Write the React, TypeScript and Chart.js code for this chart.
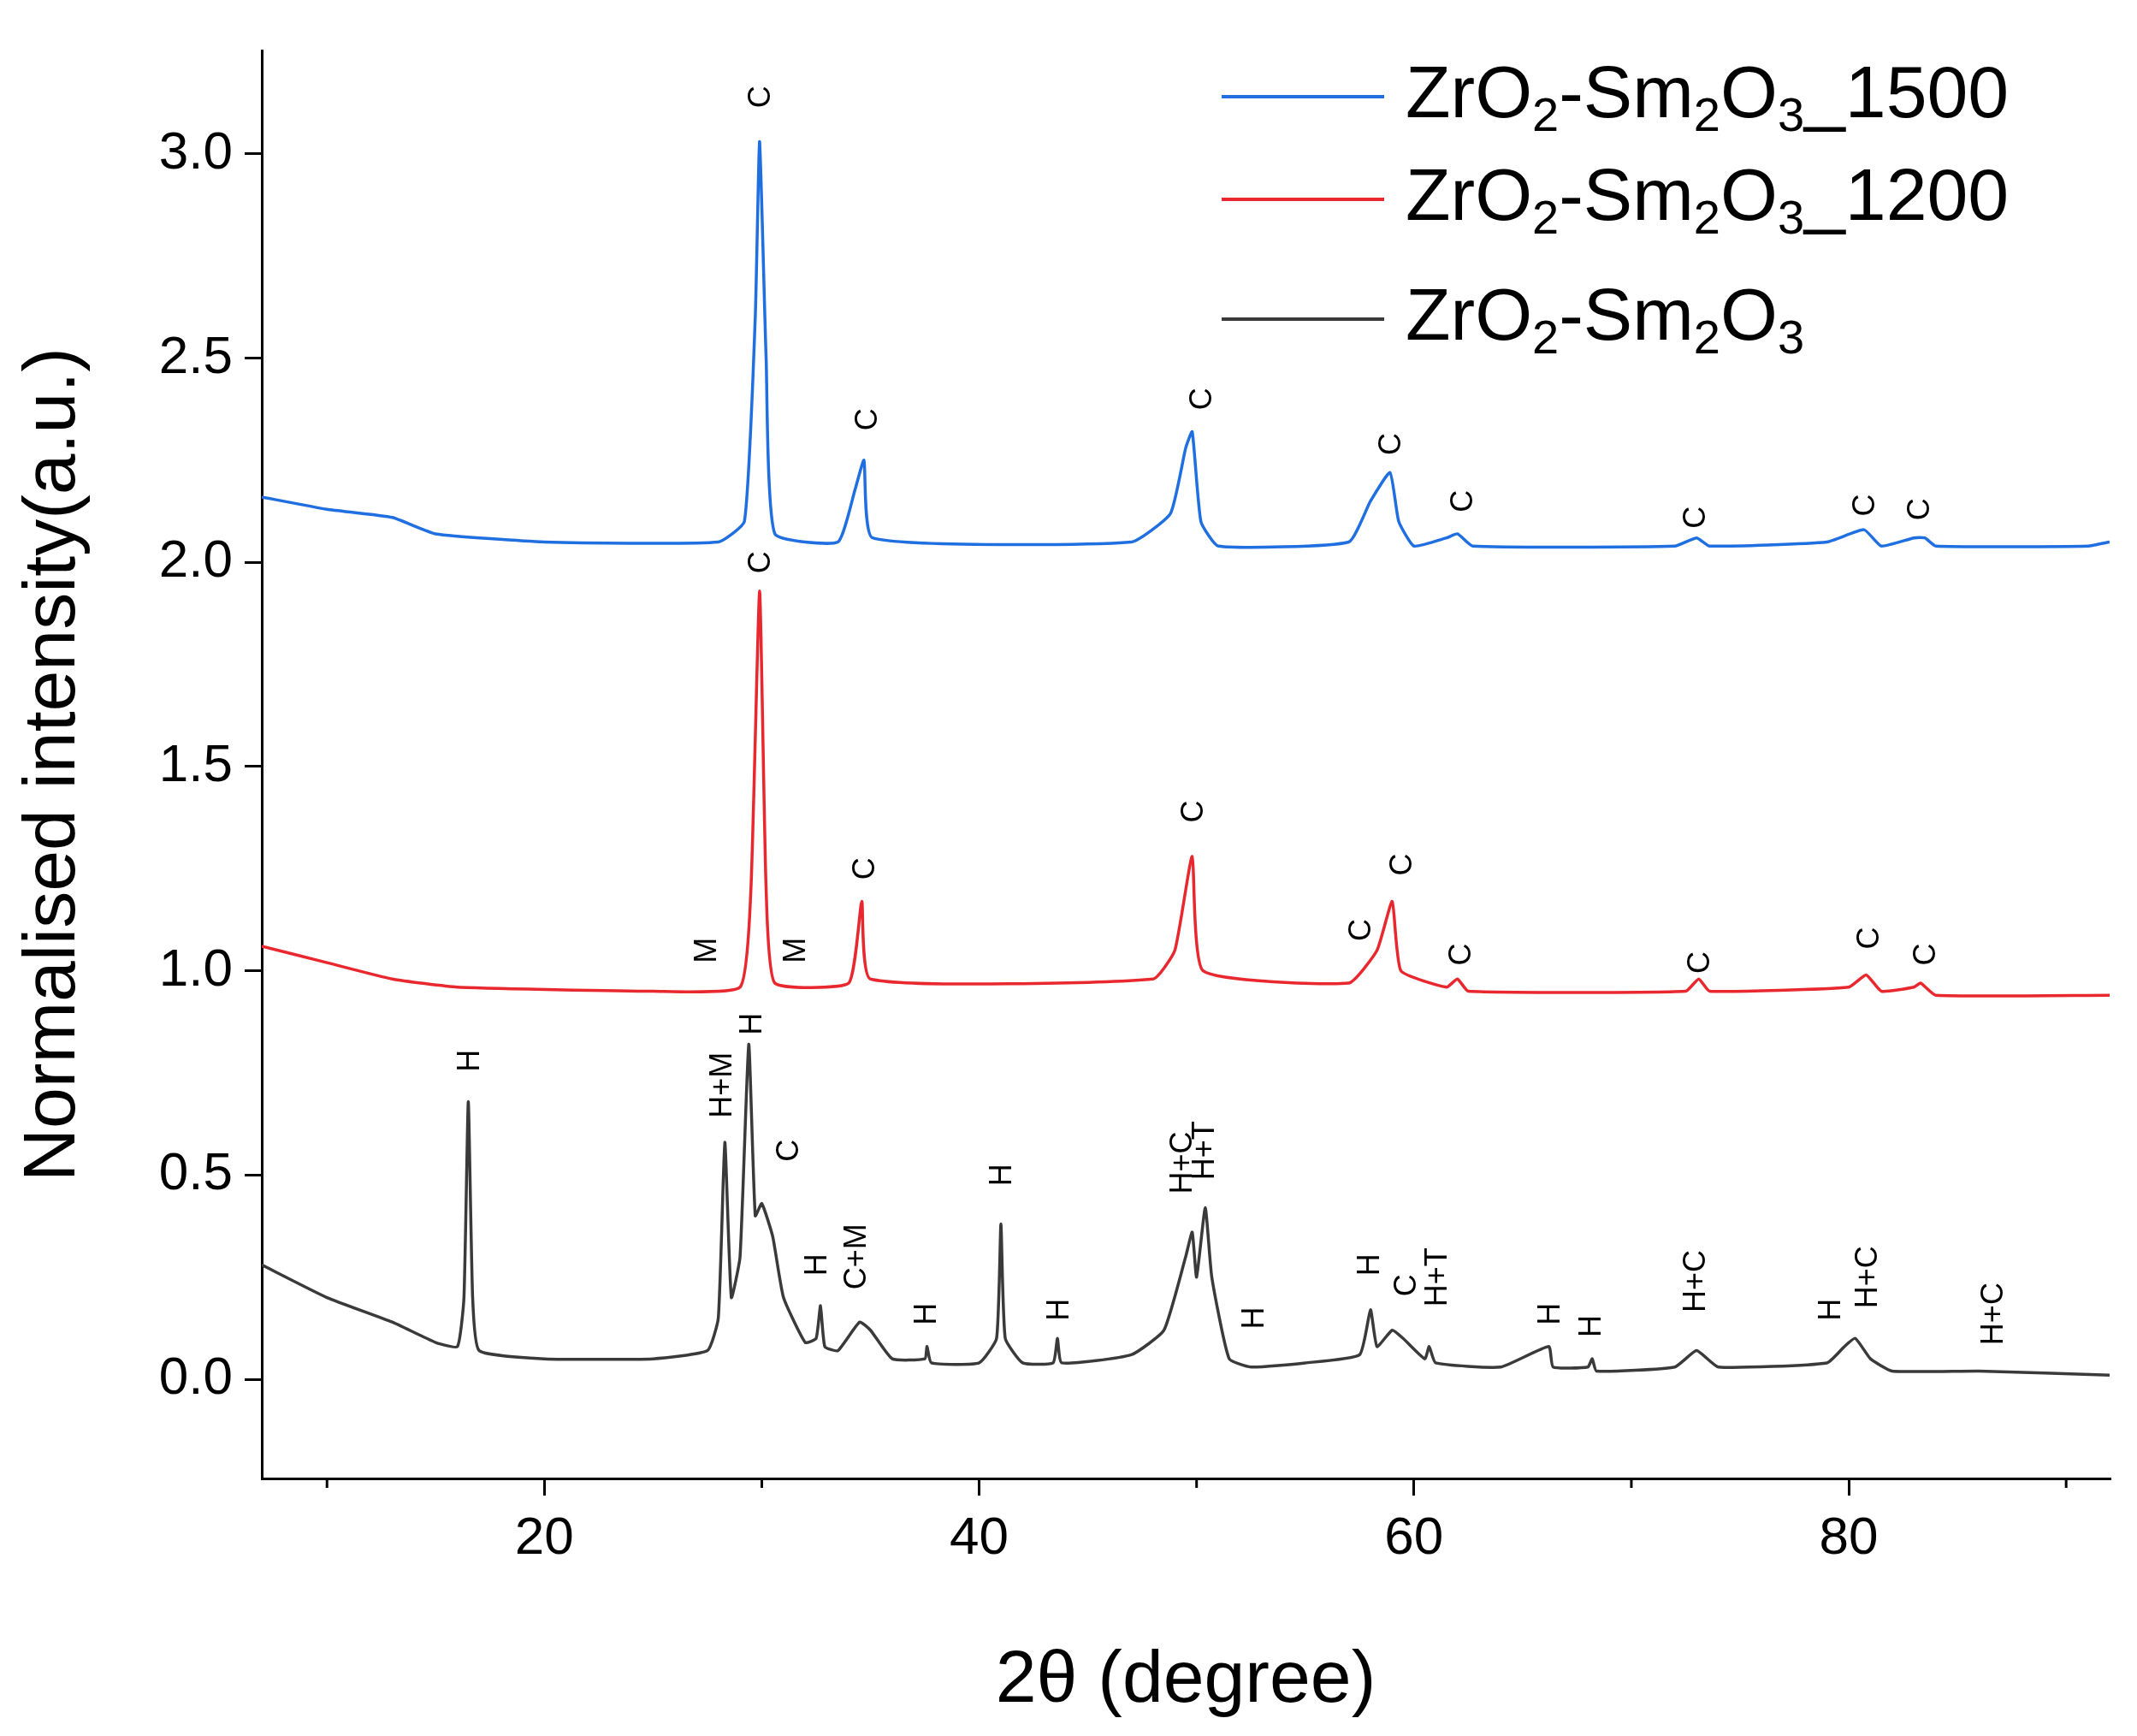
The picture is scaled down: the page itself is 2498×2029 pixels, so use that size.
import React, { useEffect, useRef } from "react";
import { Chart, registerables } from "chart.js";
Chart.register(...registerables);

const blackX = [7,10,13,15,16,16.3,16.5,16.7,17,20,25,27.5,28,28.3,28.6,29,29.4,29.7,30,30.5,31,32,32.5,32.7,32.9,33.5,34.5,35,36,37.5,37.6,37.8,40,40.8,41,41.2,42,43.4,43.6,43.8,47,48.5,49.5,49.8,50,50.4,50.7,51.5,52.5,55,57.5,58,58.3,59,59.5,60.5,60.7,61,64,66.2,66.4,68,68.2,68.4,72,73,74,79,79.8,80.3,81,82,86,92];
const blackY = [0.28,0.2,0.14,0.09,0.08,0.2,0.68,0.2,0.07,0.05,0.05,0.07,0.15,0.58,0.2,0.3,0.82,0.4,0.43,0.35,0.2,0.09,0.1,0.18,0.08,0.07,0.14,0.12,0.05,0.05,0.08,0.04,0.04,0.1,0.38,0.1,0.04,0.04,0.1,0.04,0.06,0.12,0.3,0.36,0.25,0.42,0.25,0.05,0.03,0.04,0.06,0.17,0.08,0.12,0.1,0.05,0.08,0.04,0.03,0.08,0.03,0.03,0.05,0.02,0.03,0.07,0.03,0.04,0.08,0.1,0.05,0.02,0.02,0.01];
const redX = [7,10,13,16,25,29,29.5,29.9,30.2,30.6,34,34.6,35,48,49,49.8,50.3,57,58.3,59,59.4,61.5,62,62.5,72.5,73.1,73.6,80,80.8,81.5,83,83.3,84,92];
const redY = [1.06,1.02,0.98,0.96,0.95,0.96,1.2,1.93,1.2,0.97,0.97,1.17,0.98,0.98,1.05,1.28,1.0,0.97,1.05,1.17,1.0,0.96,0.98,0.95,0.95,0.98,0.95,0.96,0.99,0.95,0.96,0.97,0.94,0.94];
const blueX = [7,10,13,15,20,28,29.2,29.7,29.9,30.2,30.6,33.5,34.3,34.7,35.1,47,48.8,49.5,49.8,50.2,51,57,58,58.9,59.3,60,61.5,62,62.7,72,73,73.6,79,80.7,81.5,83,83.5,84,91,92];
const blueY = [2.16,2.13,2.11,2.07,2.05,2.05,2.1,2.6,3.03,2.5,2.07,2.05,2.18,2.25,2.06,2.05,2.12,2.28,2.32,2.1,2.04,2.05,2.15,2.22,2.1,2.04,2.06,2.07,2.04,2.04,2.06,2.04,2.05,2.08,2.04,2.06,2.06,2.04,2.04,2.05];

const blackLabels = ["H","H+M","H","C","H","C+M","H","H","H","H+C","H+T","H","H","C","H+T","H","H","H+C","H","H+C","H+C"];
const blackLabX = [16.6,28.2,29.6,31.3,32.6,34.4,37.6,41.1,43.7,49.4,50.4,52.7,58,59.7,61.1,66.3,68.2,73,79.2,80.9,86.7];
const blackLabY = [0.78,0.72,0.87,0.56,0.28,0.3,0.16,0.5,0.17,0.53,0.56,0.15,0.28,0.23,0.25,0.16,0.13,0.24,0.17,0.25,0.16];
const redLabels = ["M","C","M","C","C","C","C","C","C","C","C"];
const redLabX = [27.5,30,31.6,34.8,49.9,57.6,59.5,62.2,73.2,81,83.6];
const redLabY = [1.05,2.0,1.05,1.25,1.39,1.1,1.26,1.04,1.02,1.08,1.04];
const blueLabels = ["C","C","C","C","C","C","C","C"];
const blueLabX = [30,34.9,50.3,59,62.3,73,80.8,83.3];
const blueLabY = [3.14,2.35,2.4,2.29,2.15,2.11,2.14,2.13];

const xTicks = [20, 40, 60, 80];
const xMinor = [10, 30, 50, 70, 90];
const legendNames = [["1500", "#1f6fe0"], ["1200", "#e8282e"], ["", "#3a3a3a"]];

const FONT = "'Liberation Sans', Arial, sans-serif";
const pts = (xs: number[], ys: number[]) => xs.map((x, i) => ({ x, y: ys[i] }));

export default function App() {
  const ref = useRef<HTMLCanvasElement>(null);
  useEffect(() => {
    const plugin = {
      id: "extras",
      afterDraw(chart: any) {
        const ctx = chart.ctx;
        const xs = chart.scales.x, ys = chart.scales.y;
        const ca = chart.chartArea;
        ctx.save();
        ctx.strokeStyle = "#000"; ctx.lineWidth = 3;
        xMinor.forEach((v) => {
          const px = xs.getPixelForValue(v);
          ctx.beginPath(); ctx.moveTo(px, ca.bottom); ctx.lineTo(px, ca.bottom + 11); ctx.stroke();
        });
        ctx.fillStyle = "#000";
        ctx.font = `36px ${FONT}`;
        ctx.textAlign = "center"; ctx.textBaseline = "middle";
        const draw = (l: string[], lx: number[], ly: number[]) => l.forEach((t, i) => {
          ctx.save();
          ctx.translate(xs.getPixelForValue(lx[i]), ys.getPixelForValue(ly[i]));
          ctx.rotate(-Math.PI / 2);
          ctx.fillText(t, 0, 0);
          ctx.restore();
        });
        draw(blackLabels, blackLabX, blackLabY);
        draw(redLabels, redLabX, redLabY);
        draw(blueLabels, blueLabX, blueLabY);
        const lx0 = 1420, lx1 = 1610, tx = 1635;
        const rows = [105, 225, 365];
        legendNames.forEach(([suf, col], i) => {
          const y = rows[i];
          ctx.strokeStyle = col; ctx.lineWidth = 4;
          ctx.beginPath(); ctx.moveTo(lx0, y); ctx.lineTo(lx1, y); ctx.stroke();
          ctx.fillStyle = "#000"; ctx.textAlign = "left"; ctx.textBaseline = "middle";
          let x = tx;
          const big = `86px ${FONT}`, small = `56px ${FONT}`;
          const seg = (t: string, sub: boolean) => {
            ctx.font = sub ? small : big;
            ctx.fillText(t, x, sub ? y + 25 : y);
            x += ctx.measureText(t).width;
          };
          seg("ZrO", false); seg("2", true); seg("-Sm", false); seg("2", true); seg("O", false); seg("3", true);
          if (suf) seg("_" + suf, false);
        });
        ctx.restore();
      },
    };
    const c = new Chart(ref.current!, {
      type: "line",
      data: {
        datasets: [
          { data: pts(blueX, blueY), borderColor: "#1f6fe0", borderWidth: 3.5, pointRadius: 0, tension: 0.15 },
          { data: pts(redX, redY), borderColor: "#e8282e", borderWidth: 3.5, pointRadius: 0, tension: 0.15 },
          { data: pts(blackX, blackY), borderColor: "#3a3a3a", borderWidth: 3.5, pointRadius: 0, tension: 0.15 },
        ],
      },
      options: {
        responsive: false, animation: false,
        layout: { padding: { top: 4, right: 24, left: 0, bottom: 0 } },
        plugins: { legend: { display: false }, tooltip: { enabled: false } },
        scales: {
          x: {
            type: "linear", min: 7, max: 92,
            afterBuildTicks: (s: any) => { s.ticks = xTicks.map((v) => ({ value: v })); },
            afterFit: (s: any) => { s.height = 293; },
            grid: { drawOnChartArea: false, drawTicks: true, tickLength: 20, color: "#000", lineWidth: 3 },
            border: { color: "#000", width: 3 },
            ticks: { color: "#000", font: { size: 62, family: FONT }, padding: 14, maxRotation: 0 },
            title: { display: true, text: "2θ (degree)", color: "#000", font: { size: 86, family: FONT }, padding: { top: 20 } },
          },
          y: {
            min: -0.243, max: 3.253,
            afterBuildTicks: (s: any) => { s.ticks = [0, 0.5, 1, 1.5, 2, 2.5, 3].map((v) => ({ value: v })); },
            afterFit: (s: any) => { s.width = 298; },
            grid: { drawOnChartArea: false, drawTicks: true, tickLength: 20, color: "#000", lineWidth: 3 },
            border: { color: "#000", width: 3 },
            ticks: { color: "#000", font: { size: 62, family: FONT }, padding: 14, callback: (v: any) => Number(v).toFixed(1) },
            title: { display: true, text: "Normalised intensity(a.u.)", color: "#000", font: { size: 86, family: FONT }, padding: { bottom: 10 } },
          },
        },
      },
      plugins: [plugin],
    });
    return () => c.destroy();
  }, []);
  return <div><canvas ref={ref} width={2482} height={2013} /></div>;
}
